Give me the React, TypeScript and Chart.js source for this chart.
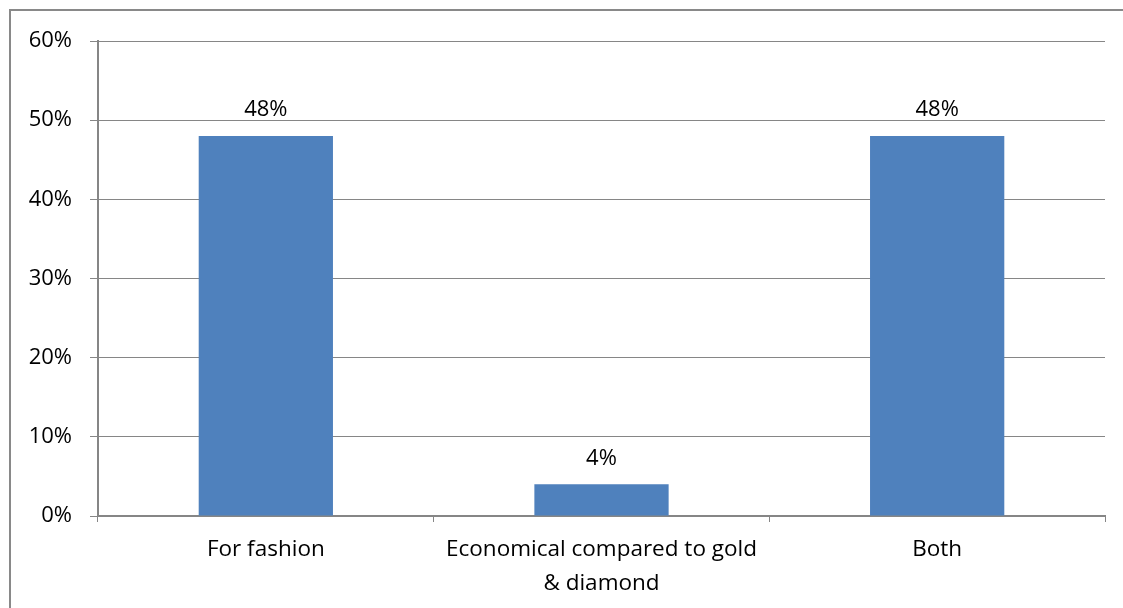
import React, { useEffect, useRef } from "react";
import { Chart, registerables } from "chart.js";

Chart.register(...registerables);

const categories: (string | string[])[] = [
  "For fashion",
  ["Economical compared to gold", "& diamond"],
  "Both",
];
const values: number[] = [48, 4, 48];
const yMin = 0;
const yMax = 60;
const yStep = 10;

const FONT = "'Open Sans', 'Liberation Sans', sans-serif";
const GRID = "#868686";
const BAR = "#4F81BD";

const frame = {
  id: "frame",
  beforeDraw(chart: any) {
    const ctx = chart.ctx;
    ctx.save();
    ctx.fillStyle = "#ffffff";
    ctx.fillRect(0, 0, chart.width, chart.height);
    ctx.strokeStyle = "#898989";
    ctx.lineWidth = 2;
    ctx.strokeRect(10, 10, chart.width + 20, chart.height + 20);
    ctx.restore();
  },
};

const valueLabels = {
  id: "valueLabels",
  afterDatasetsDraw(chart: any) {
    const ctx = chart.ctx;
    const meta = chart.getDatasetMeta(0);
    ctx.save();
    ctx.font = `22px ${FONT}`;
    ctx.fillStyle = "#000";
    ctx.textAlign = "center";
    ctx.textBaseline = "middle";
    meta.data.forEach((el: any, i: number) => {
      ctx.fillText(`${values[i]}%`, el.x, el.y - 26);
    });
    ctx.restore();
  },
};

export default function App() {
  const ref = useRef<HTMLCanvasElement>(null);
  useEffect(() => {
    if (!ref.current) return;
    const chart = new Chart(ref.current, {
      type: "bar",
      data: {
        labels: categories,
        datasets: [
          {
            data: values,
            backgroundColor: BAR,
            categoryPercentage: 0.4,
            barPercentage: 1,
          },
        ],
      },
      options: {
        animation: false,
        responsive: false,
        maintainAspectRatio: false,
        layout: { padding: { left: 0, right: 18, top: 41, bottom: 0 } },
        plugins: {
          legend: { display: false },
          tooltip: { enabled: false },
        },
        scales: {
          x: {
            grid: {
              display: true,
              drawOnChartArea: false,
              drawTicks: true,
              tickLength: 6,
              color: GRID,
              offset: true,
            },
            border: { display: true, color: GRID, width: 2 },
            ticks: {
              color: "#000",
              font: { family: FONT, size: 22.5, lineHeight: 1.5 },
              padding: 11,
              maxRotation: 0,
              autoSkip: false,
            },
            afterFit: (s: any) => {
              s.height = 92;
            },
          },
          y: {
            min: yMin,
            max: yMax,
            grid: {
              color: GRID,
              lineWidth: 1,
              tickLength: 8,
              drawTicks: true,
            },
            border: { display: true, color: GRID, width: 2 },
            ticks: {
              stepSize: yStep,
              color: "#000",
              font: { family: FONT, size: 22 },
              padding: 18,
              callback: (v: any) => `${v}%`,
            },
            afterFit: (s: any) => {
              s.width = 98;
            },
          },
        },
      },
      plugins: [frame, valueLabels],
    });
    return () => chart.destroy();
  }, []);
  return (
    <div
      style={{
        position: "fixed",
        left: 0,
        top: 0,
        width: 1123,
        height: 608,
        overflow: "hidden",
        background: "#fff",
      }}
    >
      <canvas ref={ref} width={1123} height={608} style={{ display: "block" }} />
    </div>
  );
}
